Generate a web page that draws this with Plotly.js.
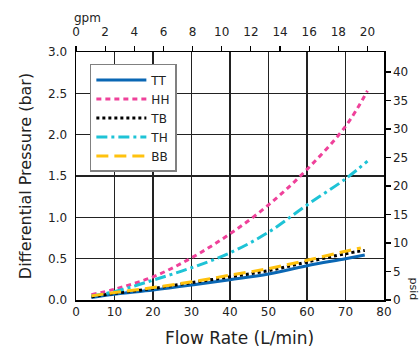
<!DOCTYPE html>
<html>
<head>
<meta charset="utf-8">
<script src="https://cdn.plot.ly/plotly-3.0.1.min.js"></script>
<style>html,body{margin:0;padding:0;background:#fff;}#chart{width:420px;height:349px;}</style>
</head>
<body>
<div id="chart"></div>
<script>
// Flow rate (L/min) sample points
const flowLow = [4, 10, 20, 30, 40, 50, 60, 70, 75];
const flowTB = [4, 10, 20, 30, 40, 50, 60, 70, 75];
const flowBB = [4, 10, 20, 30, 40, 50, 60, 70, 74];
const flowHigh = [4, 10, 20, 30, 40, 50, 60, 70, 75.7];

// Differential pressure (bar)
const TT = [0.03, 0.07, 0.12, 0.18, 0.245, 0.315, 0.415, 0.50, 0.545];
const TB = [0.04, 0.08, 0.14, 0.21, 0.28, 0.355, 0.46, 0.56, 0.60];
const BB = [0.05, 0.09, 0.15, 0.22, 0.30, 0.38, 0.48, 0.59, 0.63];
const HH = [0.065, 0.13, 0.28, 0.51, 0.80, 1.15, 1.58, 2.10, 2.53];
const TH = [0.05, 0.10, 0.24, 0.39, 0.57, 0.82, 1.15, 1.465, 1.68];

const seriesNames = ['TT', 'HH', 'TB', 'TH', 'BB'];

const LPM_PER_GPM = 3.785412;
const PSI_PER_BAR = 14.5038;
const xMax = 80, yMax = 3.0;

const font = 'DejaVu Sans, Verdana, sans-serif';

const traces = [
  {x: flowLow, y: TT, name: seriesNames[0], mode: 'lines', line: {color: '#0a67b4', width: 3}},
  {x: flowHigh, y: HH, name: seriesNames[1], mode: 'lines', line: {color: '#ef419a', width: 3, dash: '5px,4px'}},
  {x: flowTB, y: TB, name: seriesNames[2], mode: 'lines', line: {color: '#000000', width: 3, dash: '3px,3px'}},
  {x: flowHigh, y: TH, name: seriesNames[3], mode: 'lines', line: {color: '#1ec3d6', width: 3, dash: '11px,4px,3px,4px'}},
  {x: flowBB, y: BB, name: seriesNames[4], mode: 'lines', line: {color: '#ffc20e', width: 3, dash: '12px,6px'}}
];
traces.forEach(t => { t.line.shape = 'spline'; t.hoverinfo = 'skip'; });

// invisible helper traces to activate secondary axes
traces.push({x: [0], y: [0], xaxis: 'x2', yaxis: 'y', mode: 'markers', marker: {opacity: 0}, showlegend: false, hoverinfo: 'skip'});
traces.push({x: [0], y: [0], xaxis: 'x', yaxis: 'y2', mode: 'markers', marker: {opacity: 0}, showlegend: false, hoverinfo: 'skip'});

const layout = {
  width: 420, height: 349,
  margin: {l: 76, r: 36, t: 52, b: 49},
  paper_bgcolor: '#fff', plot_bgcolor: '#fff',
  font: {family: font, size: 12, color: '#222'},
  showlegend: true,
  legend: {
    x: 0.045, y: 0.952, xanchor: 'left', yanchor: 'top',
    bgcolor: '#fff', bordercolor: '#808080', borderwidth: 1.5,
    font: {family: font, size: 12, color: '#222'},
    itemwidth: 50, tracegroupgap: 0
  },
  xaxis: {
    range: [0, xMax], dtick: 10, tick0: 0,
    showgrid: true, gridcolor: '#222', gridwidth: 1.3,
    showline: true, linecolor: '#000', linewidth: 1.5, mirror: false,
    ticks: '', zeroline: false,
    tickfont: {family: font, size: 12, color: '#222'}
  },
  xaxis2: {
    overlaying: 'x', side: 'top', anchor: 'y',
    range: [0, xMax / LPM_PER_GPM], dtick: 2, tick0: 0,
    showgrid: false, zeroline: false,
    showline: true, linecolor: '#000', linewidth: 1.5,
    ticks: 'outside', ticklen: 5, tickwidth: 1.2, tickcolor: '#000',
    ticklabelstandoff: 5,
    tickfont: {family: font, size: 12, color: '#222'}
  },
  yaxis: {
    range: [0, yMax], dtick: 0.5, tick0: 0, tickformat: '.1f',
    showgrid: true, gridcolor: '#222', gridwidth: 1.3,
    showline: true, linecolor: '#000', linewidth: 1.5,
    ticks: '', zeroline: false,
    ticklabelstandoff: 5,
    tickfont: {family: font, size: 12, color: '#222'},
    title: {text: 'Differential Pressure (bar)', font: {family: font, size: 16, color: '#222'}, standoff: 12}
  },
  yaxis2: {
    overlaying: 'y', side: 'right', anchor: 'x',
    range: [0, yMax * PSI_PER_BAR], dtick: 5, tick0: 0,
    showgrid: false, zeroline: false,
    showline: true, linecolor: '#000', linewidth: 1.5,
    ticks: 'outside', ticklen: 5, tickwidth: 1.2, tickcolor: '#000',
    tickfont: {family: font, size: 12, color: '#222'}
  },
  annotations: [
    {text: 'Flow Rate (L/min)', xref: 'paper', yref: 'paper', x: 0.53, y: -0.153, xanchor: 'center', yanchor: 'middle',
     showarrow: false, font: {family: font, size: 17, color: '#222'}},
    {text: 'gpm', xref: 'paper', yref: 'paper', x: -0.013, y: 1.10, xanchor: 'left', yanchor: 'bottom',
     showarrow: false, font: {family: font, size: 12, color: '#222'}},
    {text: 'psid', xref: 'paper', yref: 'paper', x: 1.095, y: 0.045, xanchor: 'center', yanchor: 'middle',
     textangle: 90, showarrow: false, font: {family: font, size: 11, color: '#222'}}
  ]
};

Plotly.newPlot('chart', traces, layout, {staticPlot: true, displayModeBar: false});
</script>
</body>
</html>
